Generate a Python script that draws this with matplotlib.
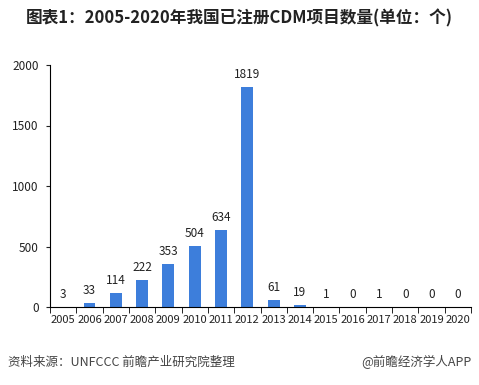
import matplotlib.pyplot as plt

plt.rcParams['font.family'] = ['Noto Sans CJK SC', 'DejaVu Sans']

years = ['2005', '2006', '2007', '2008', '2009', '2010', '2011', '2012',
         '2013', '2014', '2015', '2016', '2017', '2018', '2019', '2020']
counts = [3, 33, 114, 222, 353, 504, 634, 1819, 61, 19, 1, 0, 1, 0, 0, 0]

fig = plt.figure(figsize=(4.79, 3.85), dpi=100)
ax = fig.add_axes([50 / 479, 1 - 307 / 385, 421 / 479, 242 / 385])

x = range(len(years))
ax.bar(x, counts, width=0.45, color='#3d7edb')
for i, v in enumerate(counts):
    ax.text(i, v + 50, str(v), ha='center', va='bottom', fontsize=8.5, color='#222222')

ax.set_xlim(-0.5, len(years) - 0.5)
ax.set_ylim(0, 2000)
ax.set_yticks([0, 500, 1000, 1500, 2000])
ax.tick_params(axis='y', labelsize=8.5, length=3, pad=5, colors='#222222')
ax.set_xticks(x)
ax.set_xticklabels(years, fontsize=8)
ax.tick_params(axis='x', length=0, pad=6, colors='#222222')
# category boundary ticks
ax.set_xticks([i - 0.5 for i in range(len(years) + 1)], minor=True)
ax.tick_params(axis='x', which='minor', length=4, direction='out')

for s in ['top', 'right']:
    ax.spines[s].set_visible(False)

fig.text(0.5, 1 - 18 / 385, '图表1：2005-2020年我国已注册CDM项目数量(单位：个)',
         ha='center', va='center', fontsize=12, fontweight='bold', color='#222222')
fig.text(8 / 479, 1 - 362 / 385, '资料来源：UNFCCC 前瞻产业研究院整理',
         ha='left', va='center', fontsize=9, color='#444444')
fig.text(471 / 479, 1 - 362 / 385, '@前瞻经济学人APP',
         ha='right', va='center', fontsize=9, color='#444444')

fig.savefig('out.png', dpi=100)
